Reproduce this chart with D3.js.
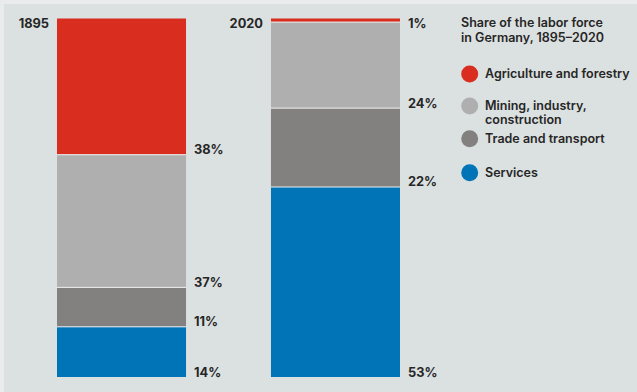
<!DOCTYPE html>
<html><head><meta charset="utf-8">
<script src="https://cdn.jsdelivr.net/npm/d3@7"></script>
<style>
html,body{margin:0;padding:0;background:#e9ebed;}
svg{display:block;}
text{font-family:Inter,"Open Sans",sans-serif;fill:#262626;}
</style></head><body>
<svg id="c" width="637" height="392"></svg>
<script>
const years = ["1895", "2020"];
const sectors = ["Agriculture and forestry", "Mining, industry, construction", "Trade and transport", "Services"];
const legendLines = [["Agriculture and forestry"], ["Mining, industry,", "construction"], ["Trade and transport"], ["Services"]];
const share1895 = [38, 37, 11, 14];
const share2020 = [1, 24, 22, 53];
const colors = ["#d92d20", "#afafaf", "#82817f", "#0074b7"];
const title = ["Share of the labor force", "in Germany, 1895\u20132020"];

const svg = d3.select("#c");
svg.append("rect").attr("x", 4).attr("y", 4).attr("width", 633).attr("height", 388).attr("fill", "#dbe0e0");

const rows = years.map((y, i) => {
  const vals = i === 0 ? share1895 : share2020;
  const o = {year: y};
  sectors.forEach((s, j) => o[s] = vals[j]);
  return o;
});
const series = d3.stack().keys(sectors)(rows);

const x = d3.scaleBand().domain(years).range([57, 400]).paddingInner(0.397);
const y = d3.scaleLinear().domain([0, 100]).range([18.5, 377]);
const color = d3.scaleOrdinal().domain(sectors).range(colors);

const g = svg.append("g");
series.forEach(s => {
  g.selectAll(null).data(s).join("rect")
    .attr("x", d => x(d.data.year))
    .attr("width", x.bandwidth())
    .attr("y", d => y(d[0]))
    .attr("height", d => y(d[1]) - y(d[0]))
    .attr("fill", color(s.key));
});
// separators
series.slice(0, -1).forEach(s => {
  g.selectAll(null).data(s).join("rect")
    .attr("x", d => x(d.data.year))
    .attr("width", x.bandwidth())
    .attr("y", d => y(d[1]) - 0.5)
    .attr("height", 1)
    .attr("fill", "#eef0f0");
});
// value labels
series.forEach(s => {
  g.selectAll(null).data(s).join("text")
    .attr("x", d => x(d.data.year) + x.bandwidth() + 8)
    .attr("y", d => Math.max(y(d[1]), y(d[0]) + 9.5) - 0.5)
    .attr("font-size", 12.8).attr("font-weight", 700)
    .text(d => (d[1] - d[0]) + "%");
});
// year labels
g.selectAll(null).data(years).join("text")
  .attr("x", d => x(d) - 8)
  .attr("y", 28)
  .attr("text-anchor", "end")
  .attr("font-size", 12.8).attr("font-weight", 700)
  .text(d => d);

// legend
const lg = svg.append("g").attr("transform", "translate(461,0)");
lg.selectAll(null).data(title).join("text")
  .attr("x", 0).attr("y", (d, i) => 27 + i * 15)
  .attr("font-size", 12.5).attr("font-weight", 600)
  .text(d => d);
const itemY = [74, 106, 138.7, 172.7];
sectors.forEach((s, i) => {
  lg.append("circle").attr("cx", 8.7).attr("cy", itemY[i]).attr("r", 8.5).attr("fill", color(s));
  legendLines[i].forEach((ln, k) => {
    lg.append("text").attr("x", 24).attr("y", itemY[i] + 4.3 + k * 14)
      .attr("font-size", 12.5).attr("font-weight", 600).text(ln);
  });
});
</script>
</body></html>
